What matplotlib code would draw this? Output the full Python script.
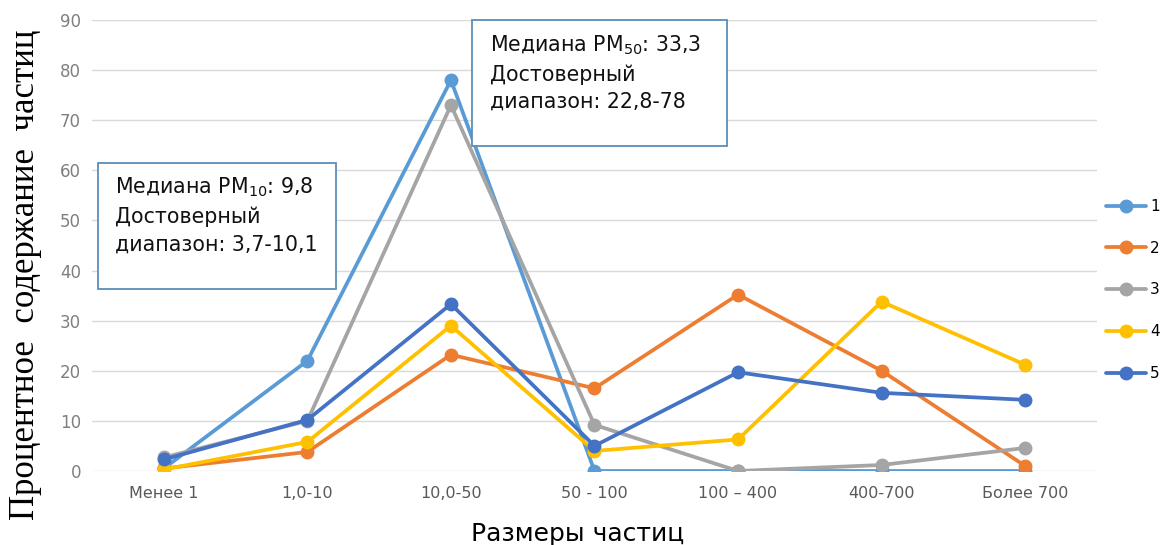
import matplotlib.pyplot as plt
from matplotlib.patches import Rectangle

categories = ['Менее 1', '1,0-10', '10,0-50', '50 - 100', '100 – 400', '400-700', 'Более 700']
series_names = ['1', '2', '3', '4', '5']
s1 = [0.5, 22, 78, 0, 0, 0, 0]
s2 = [0.5, 3.8, 23.2, 16.5, 35.2, 20, 1]
s3 = [2.7, 10, 73, 9.2, 0, 1.2, 4.6]
s4 = [0.3, 5.8, 29, 4, 6.3, 33.8, 21.2]
s5 = [2.3, 10.2, 33.3, 5, 19.7, 15.6, 14.2]
colors = ['#5b9bd5', '#ed7d31', '#a5a5a5', '#ffc000', '#4472c4']

fig = plt.figure(figsize=(11.65, 5.45), dpi=100)
ax = fig.add_axes([0.079, 0.1358, 0.8626, 0.8275])

x = list(range(len(categories)))
for vals, name, c in zip([s1, s2, s3, s4, s5], series_names, colors):
    ax.plot(x, vals, color=c, lw=2.7, marker='o', markersize=9, label=name,
            solid_capstyle='round', zorder=3)

ax.set_xlim(-0.5, len(categories) - 0.5)
ax.set_ylim(0, 90)
ax.set_yticks(range(0, 91, 10))
ax.set_xticks(x)
ax.set_xticklabels(categories, fontsize=11.5, color='#595959')
ax.tick_params(axis='y', labelsize=12, labelcolor='#7f7f7f', length=0, pad=8)
ax.tick_params(axis='x', length=0, pad=11)
ax.grid(axis='y', color='#d9d9d9', lw=1)
ax.set_axisbelow(True)
for sp in ax.spines.values():
    sp.set_visible(False)

fig.text(0.022, 0.495, 'Процентное  содержание  частиц', rotation=90,
         fontsize=25, family='Liberation Serif', ha='center', va='center')
fig.text(0.496, 0.02, 'Размеры частиц', fontsize=18, ha='center', va='center')

# text boxes
def box(x0, y0, x1, y1, lines):
    r = Rectangle((x0, y0), x1 - x0, y1 - y0, transform=ax.transData,
                  facecolor='white', edgecolor='#5b8db8', lw=1.3, zorder=5, clip_on=False)
    ax.add_patch(r)
    ax.text(x0 + 0.12, y1 - 2.6, lines, fontsize=14.8, va='top', ha='left',
            linespacing=1.45, zorder=6, color='#111111')

box(-0.46, 36.3, 1.2, 61.5, 'Медиана PM$_{10}$: 9,8\nДостоверный\nдиапазон: 3,7-10,1')
box(2.15, 64.9, 3.92, 90, 'Медиана PM$_{50}$: 33,3\nДостоверный\nдиапазон: 22,8-78')

fig.legend(loc='center left', bbox_to_anchor=(0.944, 0.468), frameon=False,
           handlelength=2.6, handletextpad=0.3, labelspacing=1.75, fontsize=11,
           borderaxespad=0)

fig.savefig('out.png', dpi=100)
